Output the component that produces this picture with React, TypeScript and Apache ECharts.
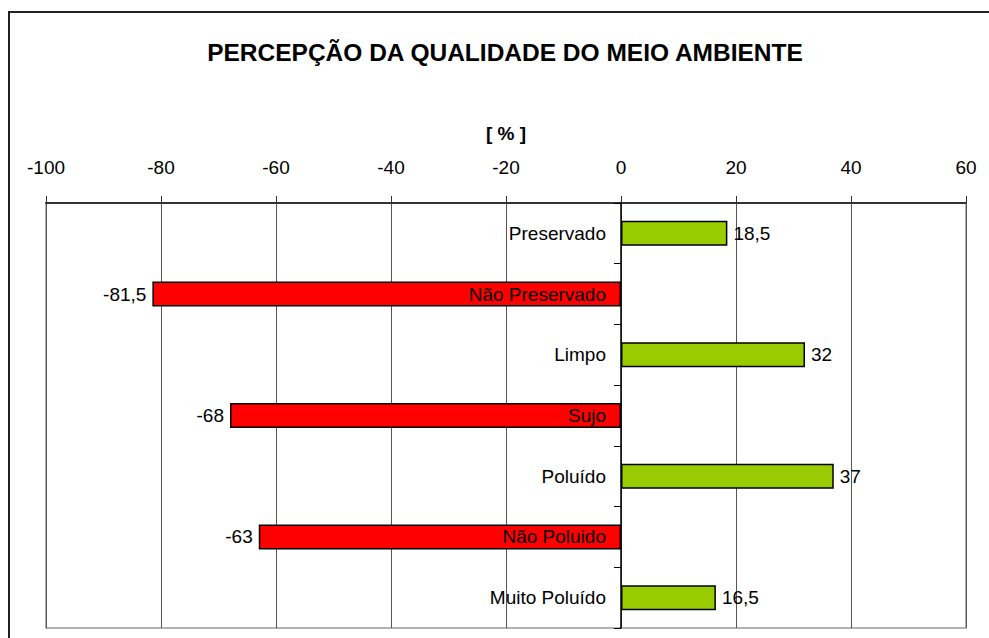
import React, { useEffect, useRef } from "react";
import * as echarts from "echarts";

const TITLE = "PERCEPÇÃO DA QUALIDADE DO MEIO AMBIENTE";
const AXIS_NAME = "[ % ]";
const categories = [
  "Preservado",
  "Não Preservado",
  "Limpo",
  "Sujo",
  "Poluído",
  "Não Poluido",
  "Muito Poluído",
];
const values = [18.5, -81.5, 32, -68, 37, -63, 16.5];
const X_MIN = -100;
const X_MAX = 60;
const X_STEP = 20;

const GREEN = "#99CC00";
const RED = "#FF0000";
const FONT = "'Liberation Sans', Arial, sans-serif";

export default function App() {
  const ref = useRef<HTMLDivElement>(null);
  useEffect(() => {
    if (!ref.current) return;
    const chart = echarts.init(ref.current, null, { renderer: "svg" });
    const fmt = (v: number) => String(v).replace(".", ",");
    chart.setOption({
      animation: false,
      backgroundColor: "#ffffff",
      textStyle: { fontFamily: FONT },
      title: {
        text: TITLE,
        left: 505,
        textAlign: "center",
        top: 37,
        padding: 0,
        textStyle: {
          fontFamily: FONT,
          fontSize: 24.5,
          fontWeight: "bold",
          color: "#000",
          lineHeight: 30,
        },
      },
      graphic: [
        {
          type: "rect",
          shape: { x: 9, y: 12, width: 1000, height: 700 },
          style: { fill: "none", stroke: "#222", lineWidth: 2 },
          silent: true,
          z: 100,
        },
      ],
      grid: {
        left: 46,
        right: 23,
        top: 203,
        bottom: 10,
        show: true,
        borderColor: "#999",
        borderWidth: 1.5,
        containLabel: false,
        outerBoundsMode: "none",
      },
      xAxis: {
        type: "value",
        position: "top",
        min: X_MIN,
        max: X_MAX,
        interval: X_STEP,
        name: AXIS_NAME,
        nameLocation: "middle",
        nameGap: 60,
        nameTextStyle: {
          fontFamily: FONT,
          fontSize: 19,
          fontWeight: "bold",
          color: "#000",
        },
        axisLine: { show: true, lineStyle: { color: "#333", width: 2 } },
        axisTick: { show: true, length: 7, lineStyle: { color: "#333", width: 1 } },
        axisLabel: {
          fontFamily: FONT,
          fontSize: 19,
          color: "#000",
          margin: 26,
        },
        splitLine: { show: true, lineStyle: { color: "#555", width: 1 } },
      },
      yAxis: {
        type: "category",
        inverse: true,
        data: categories,
        z: 5,
        axisLine: { show: true, onZero: true, lineStyle: { color: "#000", width: 1.5 } },
        axisTick: { show: true, length: 7, inside: false, lineStyle: { color: "#000", width: 1 } },
        axisLabel: { show: false },
        splitLine: { show: false },
      },
      series: [
        {
          type: "bar",
          barWidth: 25,
          z: 2,
          data: values.map((v) => ({
            value: v,
            itemStyle: {
              color: v < 0 ? RED : GREEN,
              borderColor: "#000",
              borderWidth: 1.5,
            },
            label: { position: v < 0 ? "left" : "right" },
          })),
          label: {
            show: true,
            distance: 6,
            fontFamily: FONT,
            fontSize: 19,
            color: "#000",
            formatter: (p: any) => fmt(p.value),
          },
        },
        {
          type: "scatter",
          z: 6,
          symbolSize: 0,
          itemStyle: { color: "#000" },
          silent: true,
          data: categories.map((c) => [0, c]),
          label: {
            show: true,
            position: "left",
            distance: 15,
            fontFamily: FONT,
            fontSize: 19,
            color: "#000",
            opacity: 1,
            formatter: (p: any) => p.value[1],
          },
        },
      ],
    });
    return () => chart.dispose();
  }, []);
  return (
    <div
      ref={ref}
      style={{ position: "absolute", left: 0, top: 0, width: 989, height: 638 }}
    />
  );
}
